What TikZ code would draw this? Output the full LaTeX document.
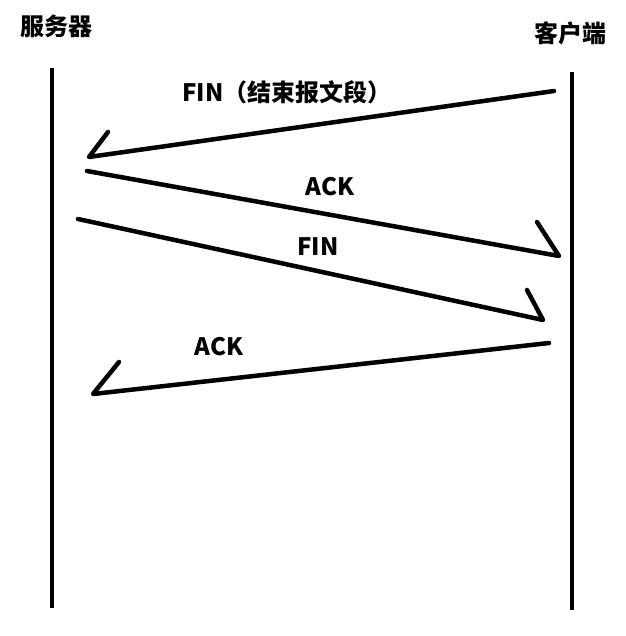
\documentclass[tikz,border=0pt]{standalone}
\usepackage{fontspec}
\setmainfont{Noto Sans CJK SC}
\usetikzlibrary{positioning,calc}

\begin{document}
\begin{tikzpicture}[x=1pt,y=-1pt,
    lbl/.style={font=\bfseries\fontsize{24}{28}\selectfont, inner sep=0pt},
    life/.style={line width=4.5pt},
    msg/.style={line width=4.5pt, line cap=round, line join=round}]
\useasboundingbox (0,0) rectangle (625,636);
% Lifelines
\node[lbl] (srv) at (56,26) {服务器};
\node[lbl] (cli) at (570,33) {客户端};
\coordinate (srvtop) at (52,68);
\coordinate (srvbot) at (52,608);
\coordinate (clitop) at (572,72);
\coordinate (clibot) at (572,610);
\draw[life] (srvtop) -- (srvbot);
\draw[life] (clitop) -- (clibot);

% Message ends: start, tip, barb
\coordinate (m1s) at (554,91);  \coordinate (m1t) at (89,157);  \coordinate (m1b) at (108,132);
\coordinate (m2s) at (87,171);  \coordinate (m2t) at (559,256); \coordinate (m2b) at (537,222);
\coordinate (m3s) at (78,219);  \coordinate (m3t) at (543,320); \coordinate (m3b) at (527,290);
\coordinate (m4s) at (549,343); \coordinate (m4t) at (93,394);  \coordinate (m4b) at (119,362);

% Messages
\foreach \m in {m1,m2,m3,m4}
    \draw[msg] (\m s) -- (\m t) -- (\m b);

% Labels
\node[lbl] (fin1) at (287,92) {FIN（结束报文段）};
\node[lbl] (ack1) at (330,187) {ACK};
\node[lbl] (fin2) at (318,247) {FIN};
\node[lbl] (ack2) at (219,347) {ACK};
\end{tikzpicture}
\end{document}
